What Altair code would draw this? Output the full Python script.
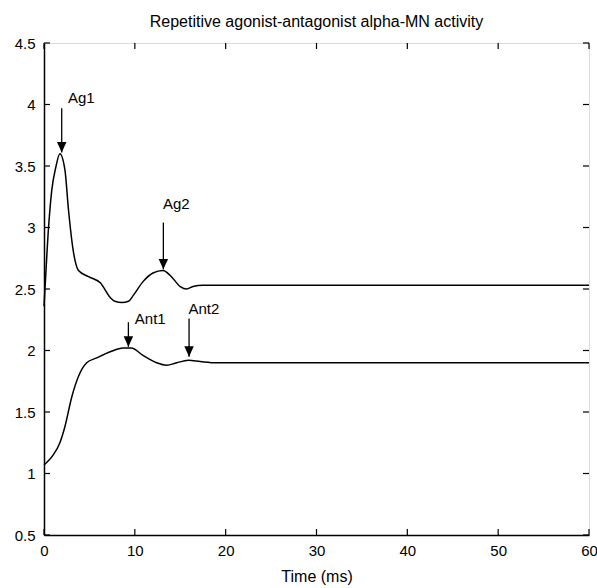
import altair as alt
import pandas as pd

# Agonist alpha-MN activity
ag_t = [0, 0.1, 0.5, 0.85, 1.3, 1.75, 2.3, 2.7, 3.2, 3.8, 4.9, 6.2, 7.3, 7.8, 8.6, 9.3,
        9.85, 10.9, 12.0, 13.1, 13.9, 15.0, 15.7, 16.4, 17.5, 20, 30, 40, 50, 60]
ag_v = [2.36, 2.49, 3.0, 3.3, 3.49, 3.6, 3.47, 3.14, 2.82, 2.65, 2.6, 2.55, 2.43, 2.40, 2.39, 2.40,
        2.45, 2.56, 2.63, 2.65, 2.61, 2.52, 2.50, 2.52, 2.53, 2.53, 2.53, 2.53, 2.53, 2.53]

# Antagonist alpha-MN activity
ant_t = [0, 0.3, 1.0, 1.75, 2.3, 3.05, 3.8, 4.7, 5.8, 7.3, 8.7, 9.6, 10.9, 12.4, 13.5,
         14.6, 15.9, 17.2, 19, 30, 40, 50, 60]
ant_v = [1.07, 1.09, 1.15, 1.25, 1.38, 1.62, 1.79, 1.90, 1.94, 1.99, 2.02, 2.02, 1.96, 1.90, 1.88,
         1.90, 1.92, 1.91, 1.90, 1.90, 1.90, 1.90, 1.90]

# Annotations
ann_names = ["Ag1", "Ag2", "Ant1", "Ant2"]
ann_t = [1.95, 13.14, 9.29, 15.97]
ann_top = [3.97, 3.04, 2.23, 2.26]
ann_tip = [3.61, 2.66, 2.03, 1.95]
lab_t = [2.64, 13.1, 10.0, 15.9]
lab_v = [4.01, 3.15, 2.215, 2.30]

x_ticks = [0, 10, 20, 30, 40, 50, 60]
y_ticks = [0.5, 1, 1.5, 2, 2.5, 3, 3.5, 4, 4.5]

title = "Repetitive agonist-antagonist alpha-MN activity"
xlabel = "Time (ms)"

W, H = 545, 492
FONT = "Liberation Sans"

lines = pd.DataFrame(
    {"t": ag_t + ant_t,
     "v": ag_v + ant_v,
     "series": ["agonist"] * len(ag_t) + ["antagonist"] * len(ant_t)}
)
ann = pd.DataFrame({"name": ann_names, "t": ann_t, "top": ann_top, "tip": ann_tip,
                    "lt": lab_t, "lv": lab_v})
xt = pd.DataFrame({"t": x_ticks})
yt = pd.DataFrame({"v": y_ticks})

xscale = alt.Scale(domain=[0, 60], nice=False, zero=False)
yscale = alt.Scale(domain=[0.5, 4.5], nice=False, zero=False)

xaxis = alt.Axis(values=x_ticks, grid=False, ticks=False, tickSize=0, labelPadding=8,
                 labelFlush=False, labelOverlap=False, title=xlabel, titlePadding=10,
                 domainColor="black", domainWidth=1.5, labelColor="black", titleColor="black",
                 labelFont=FONT, titleFont=FONT, labelFontSize=15, titleFontSize=16,
                 titleFontWeight="normal", format="d")
yaxis = alt.Axis(values=y_ticks, grid=False, ticks=False, tickSize=0, labelPadding=9,
                 labelFlush=False, labelOverlap=False, title=None,
                 domainColor="black", domainWidth=1.5, labelColor="black",
                 labelFont=FONT, labelFontSize=15, format="~g")

base = alt.Chart(lines).mark_line(color="black", strokeWidth=1.5, interpolate="monotone").encode(
    x=alt.X("t:Q", scale=xscale, axis=xaxis),
    y=alt.Y("v:Q", scale=yscale, axis=yaxis),
    detail="series:N",
)

# inward ticks (MATLAB style), on all four sides
xt_bottom = alt.Chart(xt).mark_rule(color="black", strokeWidth=1.2).encode(
    x=alt.X("t:Q", scale=xscale), y=alt.value(H), y2=alt.value(H - 6))
xt_top = alt.Chart(xt).mark_rule(color="black", strokeWidth=1.2).encode(
    x=alt.X("t:Q", scale=xscale), y=alt.value(0), y2=alt.value(6))
yt_left = alt.Chart(yt).mark_rule(color="black", strokeWidth=1.2).encode(
    y=alt.Y("v:Q", scale=yscale), x=alt.value(0), x2=alt.value(6))
yt_right = alt.Chart(yt).mark_rule(color="black", strokeWidth=1.2).encode(
    y=alt.Y("v:Q", scale=yscale), x=alt.value(W), x2=alt.value(W - 6))

arrows = alt.Chart(ann).mark_rule(color="black", strokeWidth=1.3).encode(
    x=alt.X("t:Q", scale=xscale),
    y=alt.Y("top:Q", scale=yscale),
    y2="tip:Q",
)
heads = alt.Chart(ann).mark_point(
    shape="M-1,-2.2L1,-2.2L0,0Z", filled=True, color="black", size=90, opacity=1
).encode(
    x=alt.X("t:Q", scale=xscale),
    y=alt.Y("tip:Q", scale=yscale),
)
labels = alt.Chart(ann).mark_text(
    align="left", baseline="alphabetic", font=FONT, fontSize=15, color="black"
).encode(
    x=alt.X("lt:Q", scale=xscale),
    y=alt.Y("lv:Q", scale=yscale),
    text="name:N",
)

chart = alt.layer(base, xt_bottom, xt_top, yt_left, yt_right, arrows, heads, labels).properties(
    width=W, height=H,
    title=alt.TitleParams(title, font=FONT, fontSize=16, fontWeight="normal",
                          color="black", anchor="middle", offset=6),
    autosize=alt.AutoSizeParams(type="none"),
    padding={"left": 44, "top": 43, "right": 8, "bottom": 53},
).configure_view(stroke="black", strokeWidth=1.5).configure(background="white")

chart.save("out.html", embed_options={"renderer": "svg", "actions": False})
